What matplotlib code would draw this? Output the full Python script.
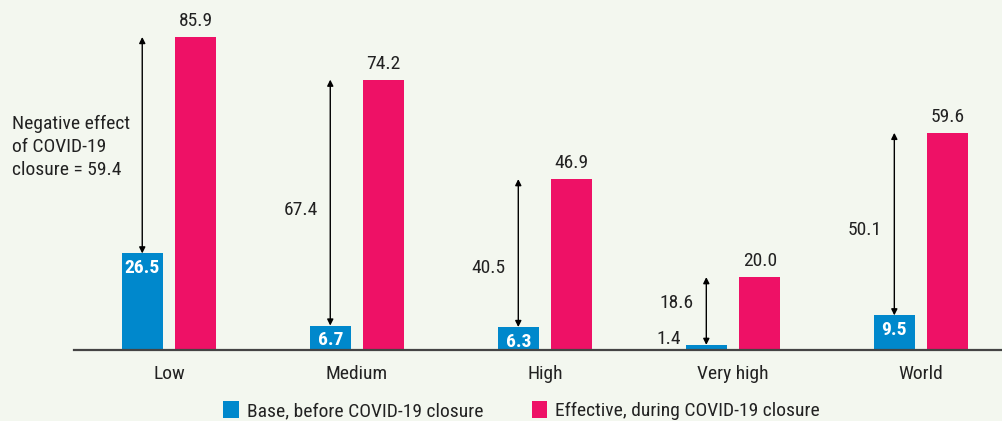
import matplotlib.pyplot as plt
from matplotlib import font_manager
import numpy as np

names = {f.name for f in font_manager.fontManager.ttflist}
fam = [n for n in ['Roboto Condensed', 'Archivo Narrow', 'Asap Condensed'] if n in names][:1]
plt.rcParams['font.family'] = fam + ['DejaVu Sans']

categories = ['Low', 'Medium', 'High', 'Very high', 'World']
base = [26.5, 6.7, 6.3, 1.4, 9.5]
effective = [85.9, 74.2, 46.9, 20.0, 59.6]
effect_labels = ['', '67.4', '40.5', '18.6', '50.1']
effect_label_y = [0, 38.4, 22.5, 12.9, 32.9]

bg = '#f3f7ef'
blue = '#0088cc'
pink = '#ee1166'
txt = '#222222'

fig = plt.figure(figsize=(10.03, 4.21), dpi=100, facecolor=bg)
ax = fig.add_axes([74 / 1003, 71 / 421, 929 / 1003, 350 / 421])
ax.set_facecolor(bg)

x = np.arange(len(categories))
off = 0.142
w = 0.216
ax.bar(x - off, base, w, color=blue, zorder=2, label='Base, before COVID-19 closure')
ax.bar(x + off, effective, w, color=pink, zorder=2, label='Effective, during COVID-19 closure')

ax.set_xlim(-0.505, 4.436)
ax.set_ylim(0, 96.05)

for i in range(len(categories)):
    ax.annotate('', xy=(x[i] - off, effective[i]), xytext=(x[i] - off, base[i]),
                arrowprops=dict(arrowstyle='<|-|>', color='black', lw=1,
                                mutation_scale=9, shrinkA=0, shrinkB=0), zorder=3)
    ax.annotate(f'{effective[i]:.1f}', (x[i] + off, effective[i]), xytext=(0, 5),
                textcoords='offset points', ha='center', va='bottom', fontsize=14, color=txt)
    if base[i] > 5:
        ax.annotate(f'{base[i]:.1f}', (x[i] - off, base[i]), xytext=(0, -4),
                    textcoords='offset points', ha='center', va='top', fontsize=14,
                    color='white', fontweight='bold', zorder=4)
    else:
        ax.annotate(f'{base[i]:.1f}', (x[i] - off - w / 2, base[i]), xytext=(-4, -2),
                    textcoords='offset points', ha='right', va='bottom', fontsize=14, color=txt)
    if effect_labels[i]:
        ax.annotate(effect_labels[i], (x[i] - off, effect_label_y[i]), xytext=(-9, 0),
                    textcoords='offset points', ha='right', va='center', fontsize=14, color=txt)

fig.text(12 / 1003, 1 - 147 / 421, 'Negative effect\nof COVID-19\nclosure = 59.4', ha='left', va='center',
         fontsize=14, color=txt, linespacing=1.35)

for s in ['top', 'right', 'left']:
    ax.spines[s].set_visible(False)
ax.spines['bottom'].set_color('#444444')
ax.spines['bottom'].set_linewidth(1.6)
ax.spines['bottom'].set_zorder(5)
ax.set_yticks([])
ax.set_xticks(x)
ax.set_xticklabels(categories, fontsize=14, color=txt)
ax.tick_params(axis='x', length=0, pad=11)

fig.legend(loc='lower center', bbox_to_anchor=(0.52, -0.04), ncol=2, frameon=False,
           fontsize=14, handlelength=0.8, handleheight=1.0, handletextpad=0.4,
           columnspacing=2.5, labelcolor=txt)

fig.savefig('out.png', dpi=100, facecolor=bg)
